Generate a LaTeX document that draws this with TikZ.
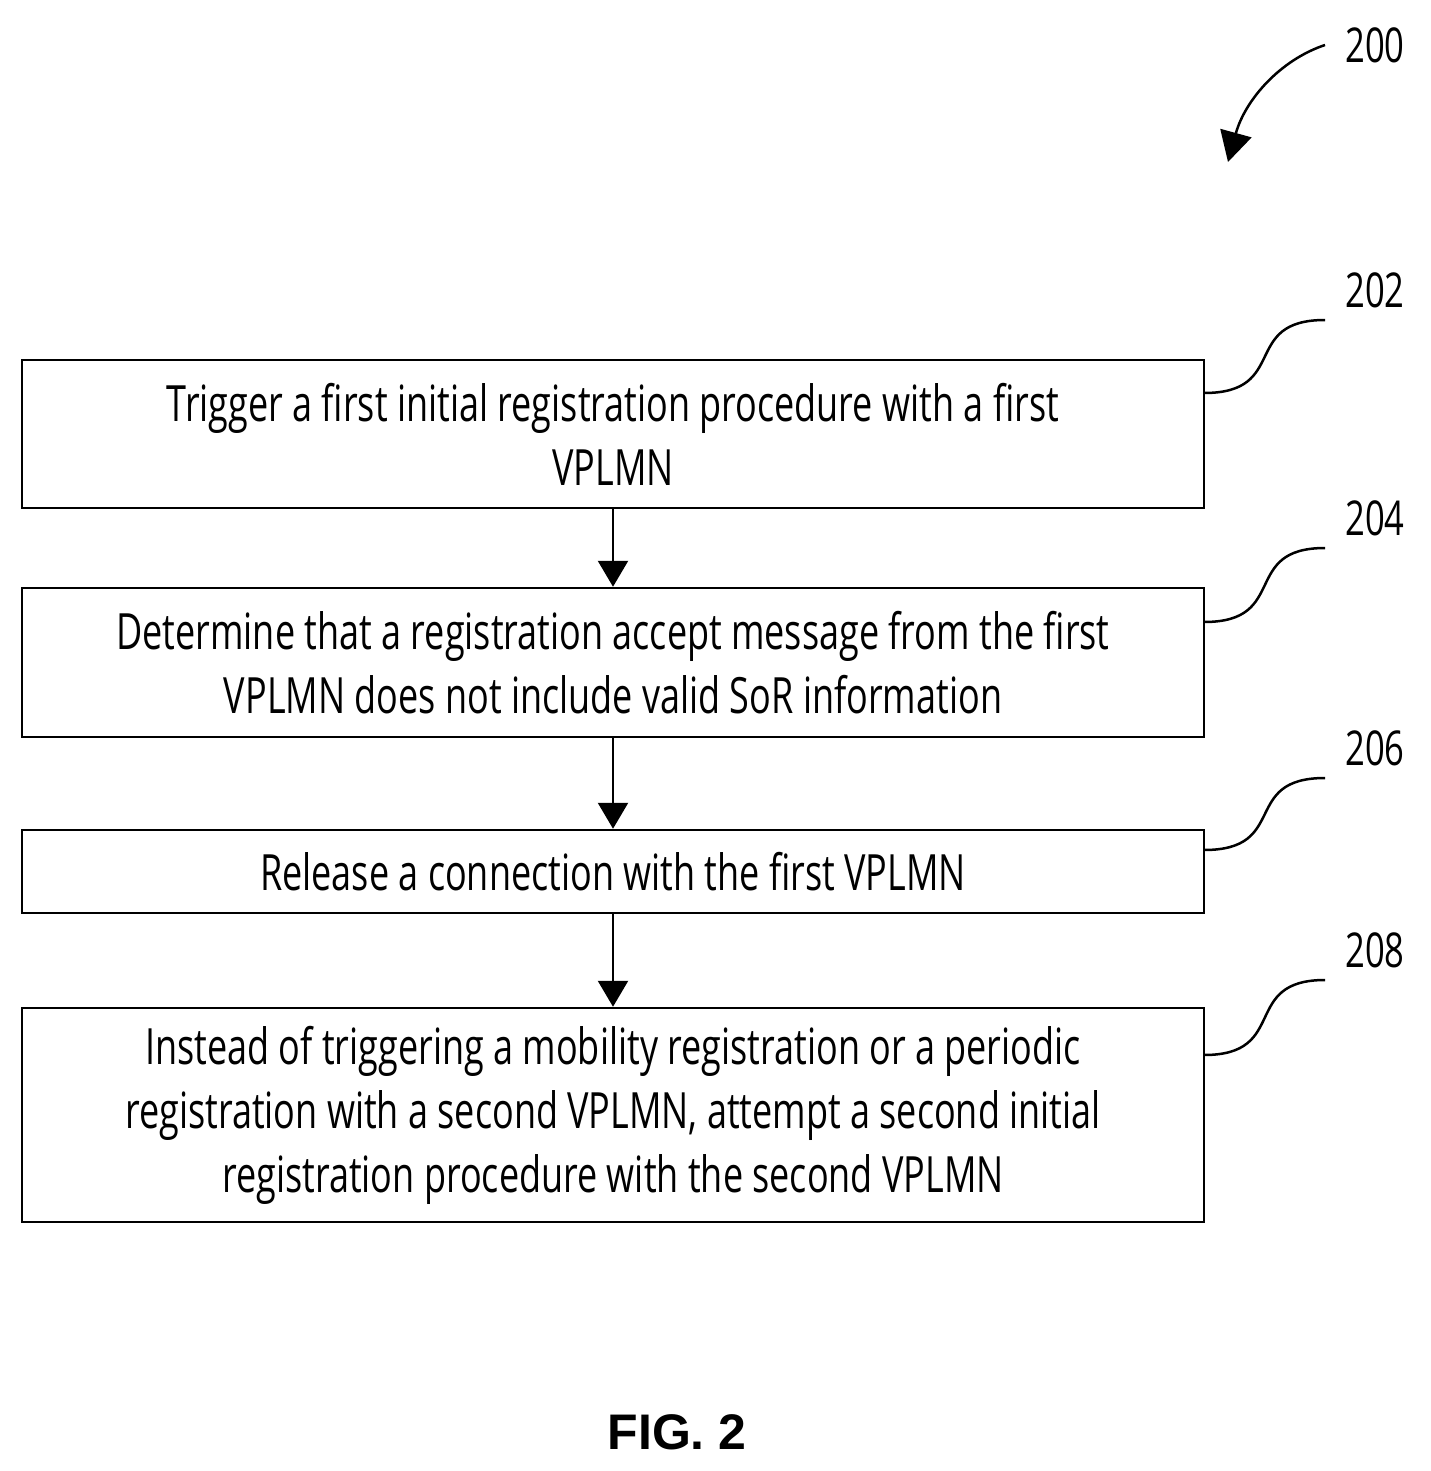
\documentclass[tikz,border=0pt]{standalone}
\usepackage{fontspec}
\setmainfont{Open Sans}[FakeStretch=0.72]
\newfontfamily\figfont{Liberation Sans}
\usetikzlibrary{arrows.meta}
\begin{document}
\begin{tikzpicture}[x=1pt,y=-1pt,
  box/.style={draw,line width=2.5pt,inner sep=0pt,font=\fontsize{50}{64}\selectfont,align=center},
  arr/.style={line width=2.5pt,-{Triangle[length=26pt,width=30pt]}},
  lead/.style={line width=2.5pt},
  num/.style={font=\fontsize{48}{50}\selectfont}]
\useasboundingbox (0,0) rectangle (1430,1471);
\node[box,minimum width=1182pt,minimum height=148pt] (b1) at (613,434) {Trigger a first initial registration procedure with a first\\VPLMN};
\node[box,minimum width=1182pt,minimum height=149pt] (b2) at (613,662.5) {Determine that a registration accept message from the first\\VPLMN does not include valid SoR information};
\node[box,minimum width=1182pt,minimum height=83pt] (b3) at (613,871.5) {Release a connection with the first VPLMN};
\node[box,minimum width=1182pt,minimum height=214pt] (b4) at (613,1115) {Instead of triggering a mobility registration or a periodic\\registration with a second VPLMN, attempt a second initial\\registration procedure with the second VPLMN};
\draw[arr] (b1.south) -- (b2.north);
\draw[arr] (b2.south) -- (b3.north);
\draw[arr] (b3.south) -- (b4.north);
\node[num] (n200) at (1375,45) {200};
\node[num] (n202) at (1375,290) {202};
\node[num] (n204) at (1375,518) {204};
\node[num] (n206) at (1375,748) {206};
\node[num] (n208) at (1375,950) {208};
\coordinate (t200) at (1325,45);
\coordinate (h200) at (1228,162);
\draw[line width=2.5pt,-{Triangle[length=30pt,width=32pt]}] (t200) .. controls (1280,60) and (1245,100) .. (h200);
\foreach \b/\y/\t in {b1/393/320, b2/622/548, b3/850/778, b4/1055/980}{
  \coordinate (s) at (1204,\y);
  \coordinate (e) at (1325,\t);
  \draw[lead] (s) .. controls (1290,\y) and (1240,\t) .. (e);
}
\node[font=\figfont\bfseries\fontsize{50}{52}\selectfont] (fig) at (677,1432) {FIG. 2};
\end{tikzpicture}
\end{document}
